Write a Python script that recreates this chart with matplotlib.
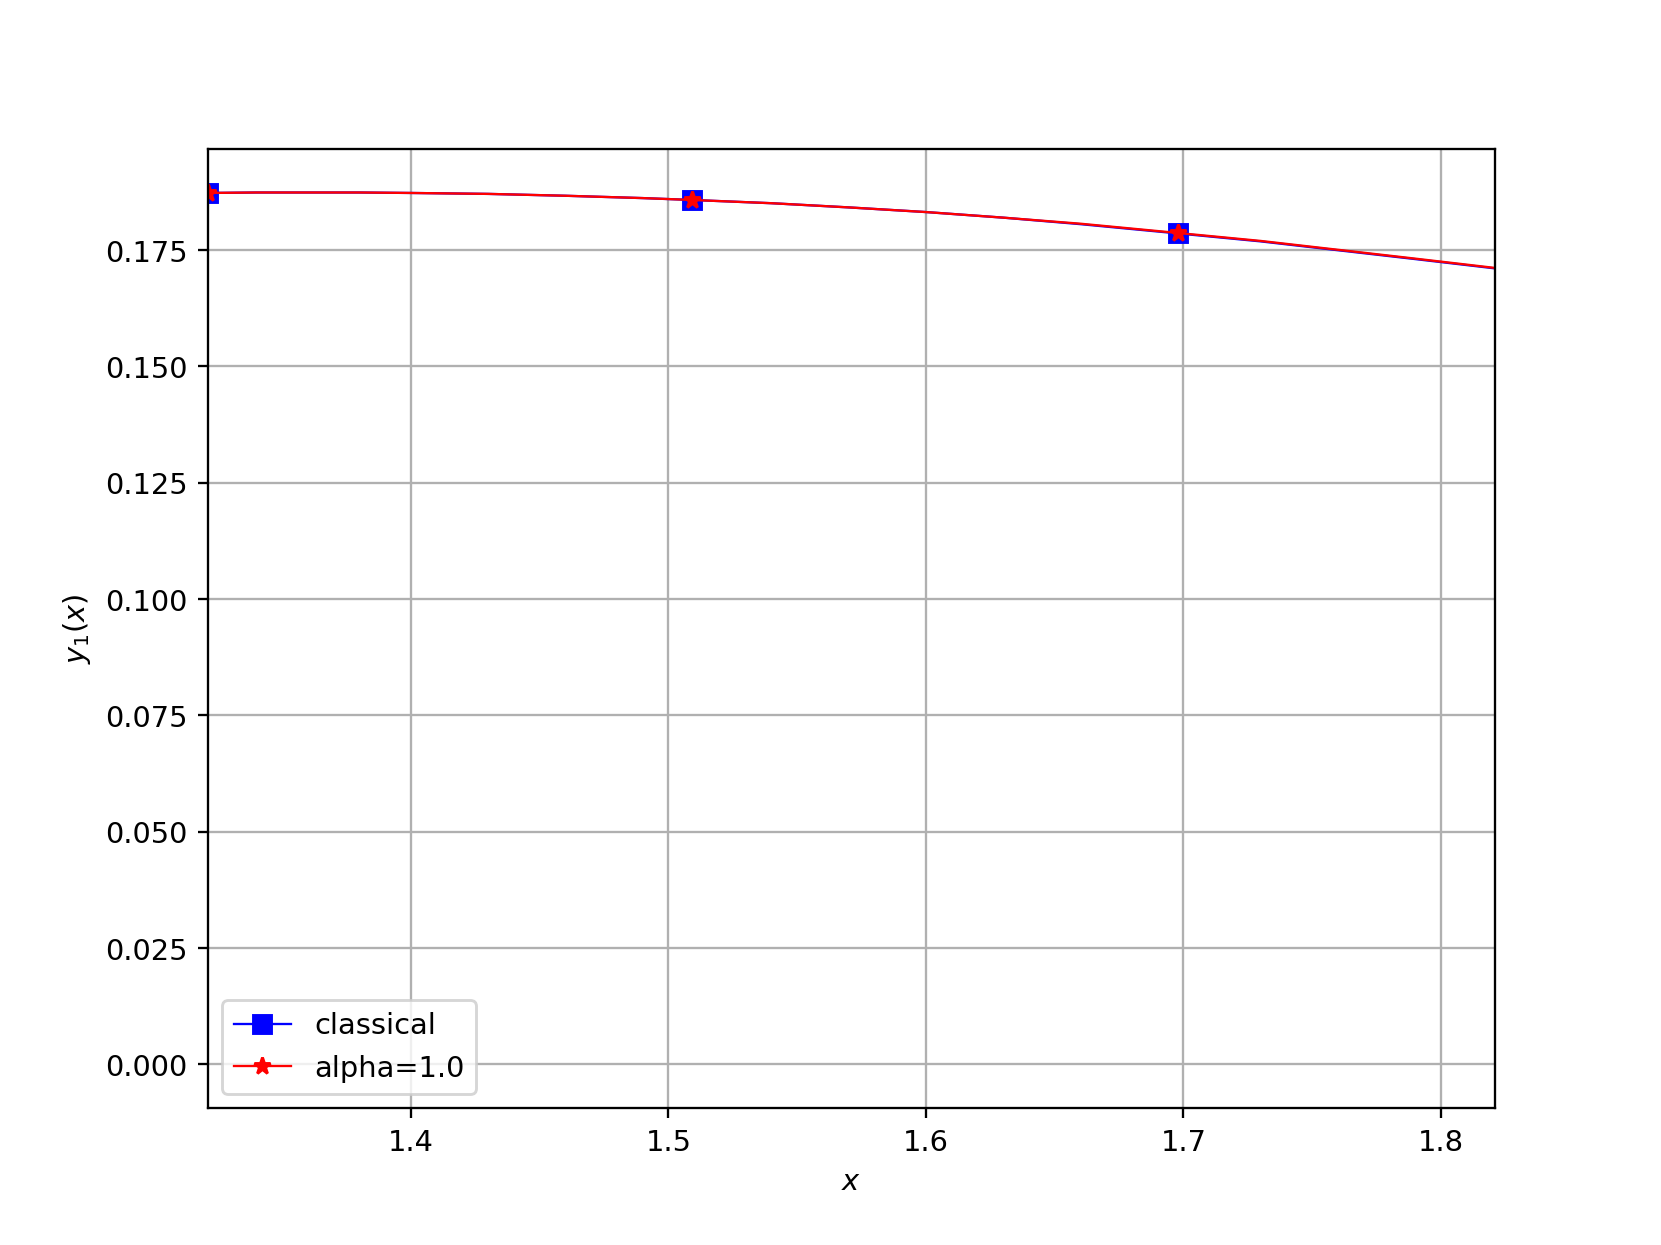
import matplotlib
matplotlib.use('Agg')
import matplotlib.pyplot as plt

# values
x = [1.321, 1.34, 1.36, 1.38, 1.40, 1.43, 1.46, 1.49, 1.509, 1.54, 1.57,
     1.60, 1.63, 1.66, 1.698, 1.73, 1.76, 1.79, 1.821]
y_classical = [0.1872, 0.1873, 0.1873, 0.1873, 0.1872, 0.1870, 0.1866, 0.1861,
               0.1857, 0.1850, 0.1841, 0.1831, 0.1819, 0.1805, 0.1785, 0.1768,
               0.1749, 0.1730, 0.1710]
y_alpha = [0.1872, 0.1873, 0.1873, 0.1873, 0.1872, 0.1870, 0.1866, 0.1861,
           0.1857, 0.1850, 0.1841, 0.1831, 0.1819, 0.1806, 0.1786, 0.1769,
           0.1750, 0.1731, 0.1711]
mark_idx = [0, 8, 14]

dpi = 1661 / 8.0
fig = plt.figure(figsize=(8, 6), dpi=dpi)
ax = fig.add_subplot(111)
ax.plot(x, y_classical, 'b-s', lw=0.8, markevery=mark_idx, label='classical')
ax.plot(x, y_alpha, 'r-*', lw=0.8, markevery=mark_idx, label='alpha=1.0')
ax.set_xlim(1.321, 1.821)
ax.set_ylim(-0.00935, 0.1967)
ax.set_xlabel('$x$')
ax.set_ylabel('$y_1(x)$')
ax.grid(True)
ax.legend(loc='lower left')
plt.savefig('out.png', dpi=dpi)
